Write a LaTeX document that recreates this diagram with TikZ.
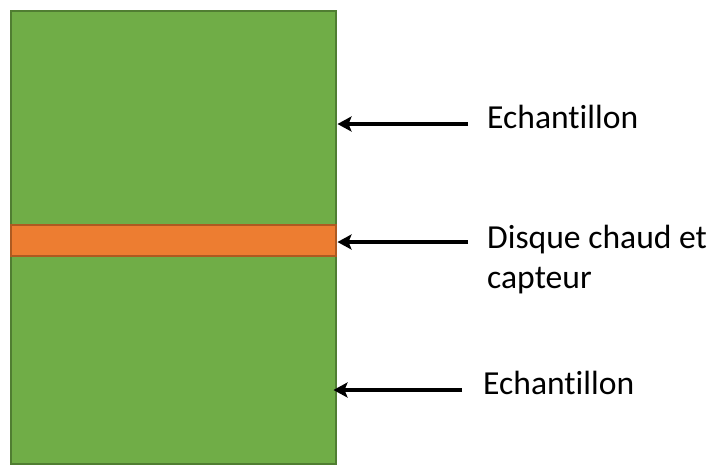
\documentclass[tikz,border=0pt]{standalone}
\usepackage{fontspec}
\setmainfont[Ligatures=NoCommon]{Carlito}
\usetikzlibrary{arrows.meta}
\definecolor{sampleGreen}{HTML}{70AD47}
\definecolor{sampleEdge}{HTML}{507E32}
\definecolor{diskOrange}{HTML}{ED7D31}
\definecolor{diskEdge}{HTML}{AE5A21}

\begin{document}
\begin{tikzpicture}[
 x=1pt, y=-1pt, font=\fontsize{33.6pt}{40pt}\selectfont,
 layer/.style={draw, line width=1.5pt, minimum width=325pt, inner sep=0pt, anchor=north west},
 sample/.style={layer, fill=sampleGreen, draw=sampleEdge, minimum height=453pt},
 disk/.style={layer, fill=diskOrange, draw=diskEdge, minimum height=31pt},
 label/.style={anchor=base west, inner sep=0pt, align=left},
 pointer/.style={draw, line width=4pt, -{Stealth[length=14pt, width=15pt, inset=3pt]}}]
\useasboundingbox (0,0) rectangle (708,464);
\node[sample] (sample) at (10,10) {};
\node[disk] (disk) at (10,224) {};
% labels
\node[label] (lblTop) at (487,128) {Echantillon};
\node[label] (lblDisk) at (487,288) {Disque chaud et\\capteur};
\node[label] (lblBot) at (483,394) {Echantillon};
% arrows
\coordinate (tTop) at (468,124);
\coordinate (tDisk) at (468,242);
\coordinate (tBot) at (462,390);
\draw[pointer] (tTop) -- ([xshift=1pt]sample.east |- tTop);
\draw[pointer] (tDisk) -- ([xshift=1pt]disk.east |- tDisk);
\draw[pointer] (tBot) -- ([xshift=-3pt]sample.east |- tBot);
\end{tikzpicture}
\end{document}
